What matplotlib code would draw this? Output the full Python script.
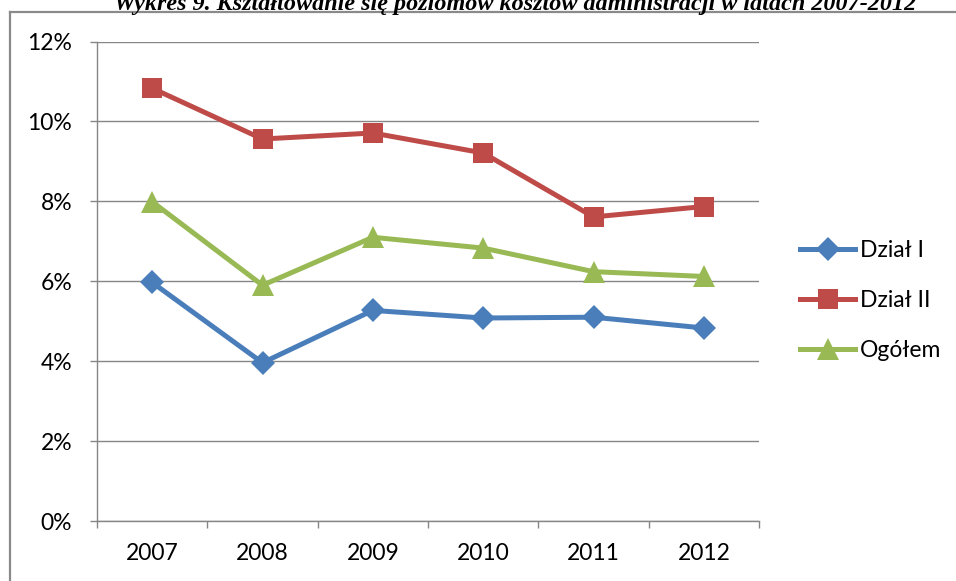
import matplotlib
matplotlib.use("Agg")
import matplotlib.pyplot as plt
from matplotlib.lines import Line2D
from matplotlib.ticker import FuncFormatter, FixedLocator

# Administrative cost levels by year (share, %)
years = ["2007", "2008", "2009", "2010", "2011", "2012"]
dzial_1 = [5.97, 3.96, 5.27, 5.08, 5.10, 4.83]
dzial_2 = [10.83, 9.56, 9.71, 9.21, 7.61, 7.87]
ogolem = [7.99, 5.90, 7.10, 6.83, 6.24, 6.12]

series_names = ["Dział I", "Dział II", "Ogółem"]
title = "Wykres 9. Kształtowanie się poziomów kosztów administracji w latach 2007-2012"

W, H = 956, 581
fig = plt.figure(figsize=(W / 100, H / 100), dpi=100)
fig.patch.set_facecolor("white")

ax = fig.add_axes([97 / W, 1 - 521 / H, (759 - 97) / W, (521 - 41.5) / H])

grid_c = "#868686"
label_font = "Lato"
fs = 16.5

x = list(range(len(years)))
styles = [
    (dzial_1, "#4A7EBB", "D", 12),
    (dzial_2, "#BE4B48", "s", 15),
    (ogolem, "#98B954", "^", 16),
]
for (vals, color, marker, ms), name in zip(styles, series_names):
    ax.plot(x, vals, color=color, lw=3.6, marker=marker, markersize=ms,
            markeredgewidth=0, label=name, zorder=3, solid_joinstyle="round")

ax.set_xlim(-0.5, len(years) - 0.5)
ax.set_ylim(0, 12)
ax.set_yticks(range(0, 13, 2))
ax.yaxis.set_major_formatter(FuncFormatter(lambda v, p: f"{int(v)}%"))
ax.grid(axis="y", color=grid_c, lw=1.0)
ax.set_axisbelow(True)

ax.set_xticks(x)
ax.set_xticklabels(years)
ax.xaxis.set_minor_locator(FixedLocator([i - 0.5 for i in range(len(years) + 1)]))
ax.tick_params(axis="x", which="major", length=0, pad=16, labelsize=fs)
ax.tick_params(axis="x", which="minor", length=5, width=1.0, color=grid_c, direction="out")
ax.tick_params(axis="y", which="major", length=5, width=1.0, color=grid_c, pad=13, labelsize=fs)
for lab in ax.get_xticklabels() + ax.get_yticklabels():
    lab.set_fontfamily(label_font)

for side in ("top", "right"):
    ax.spines[side].set_visible(False)
for side in ("left", "bottom"):
    ax.spines[side].set_color(grid_c)
    ax.spines[side].set_linewidth(1.0)

leg = fig.legend(loc="upper left", bbox_to_anchor=(800 / W, 1 - 240 / H),
                 frameon=False, prop={"family": label_font, "size": fs},
                 handlelength=2.4, handletextpad=0.2, labelspacing=1.27,
                 borderpad=0, borderaxespad=0)

# outer frame of the chart object
fig.add_artist(Line2D([9.5 / W, 9.5 / W], [0, 1 - 11.5 / H], transform=fig.transFigure,
                      color="#8a8a8a", lw=1.6))
fig.add_artist(Line2D([9.5 / W, 1], [1 - 11.5 / H, 1 - 11.5 / H], transform=fig.transFigure,
                      color="#8a8a8a", lw=1.6))

fig.text(515 / W, 1 - 10 / H, title, ha="center", va="baseline",
         family="Liberation Serif", weight="bold", style="italic", fontsize=17.4)

fig.savefig("out.png", dpi=100, facecolor="white")
